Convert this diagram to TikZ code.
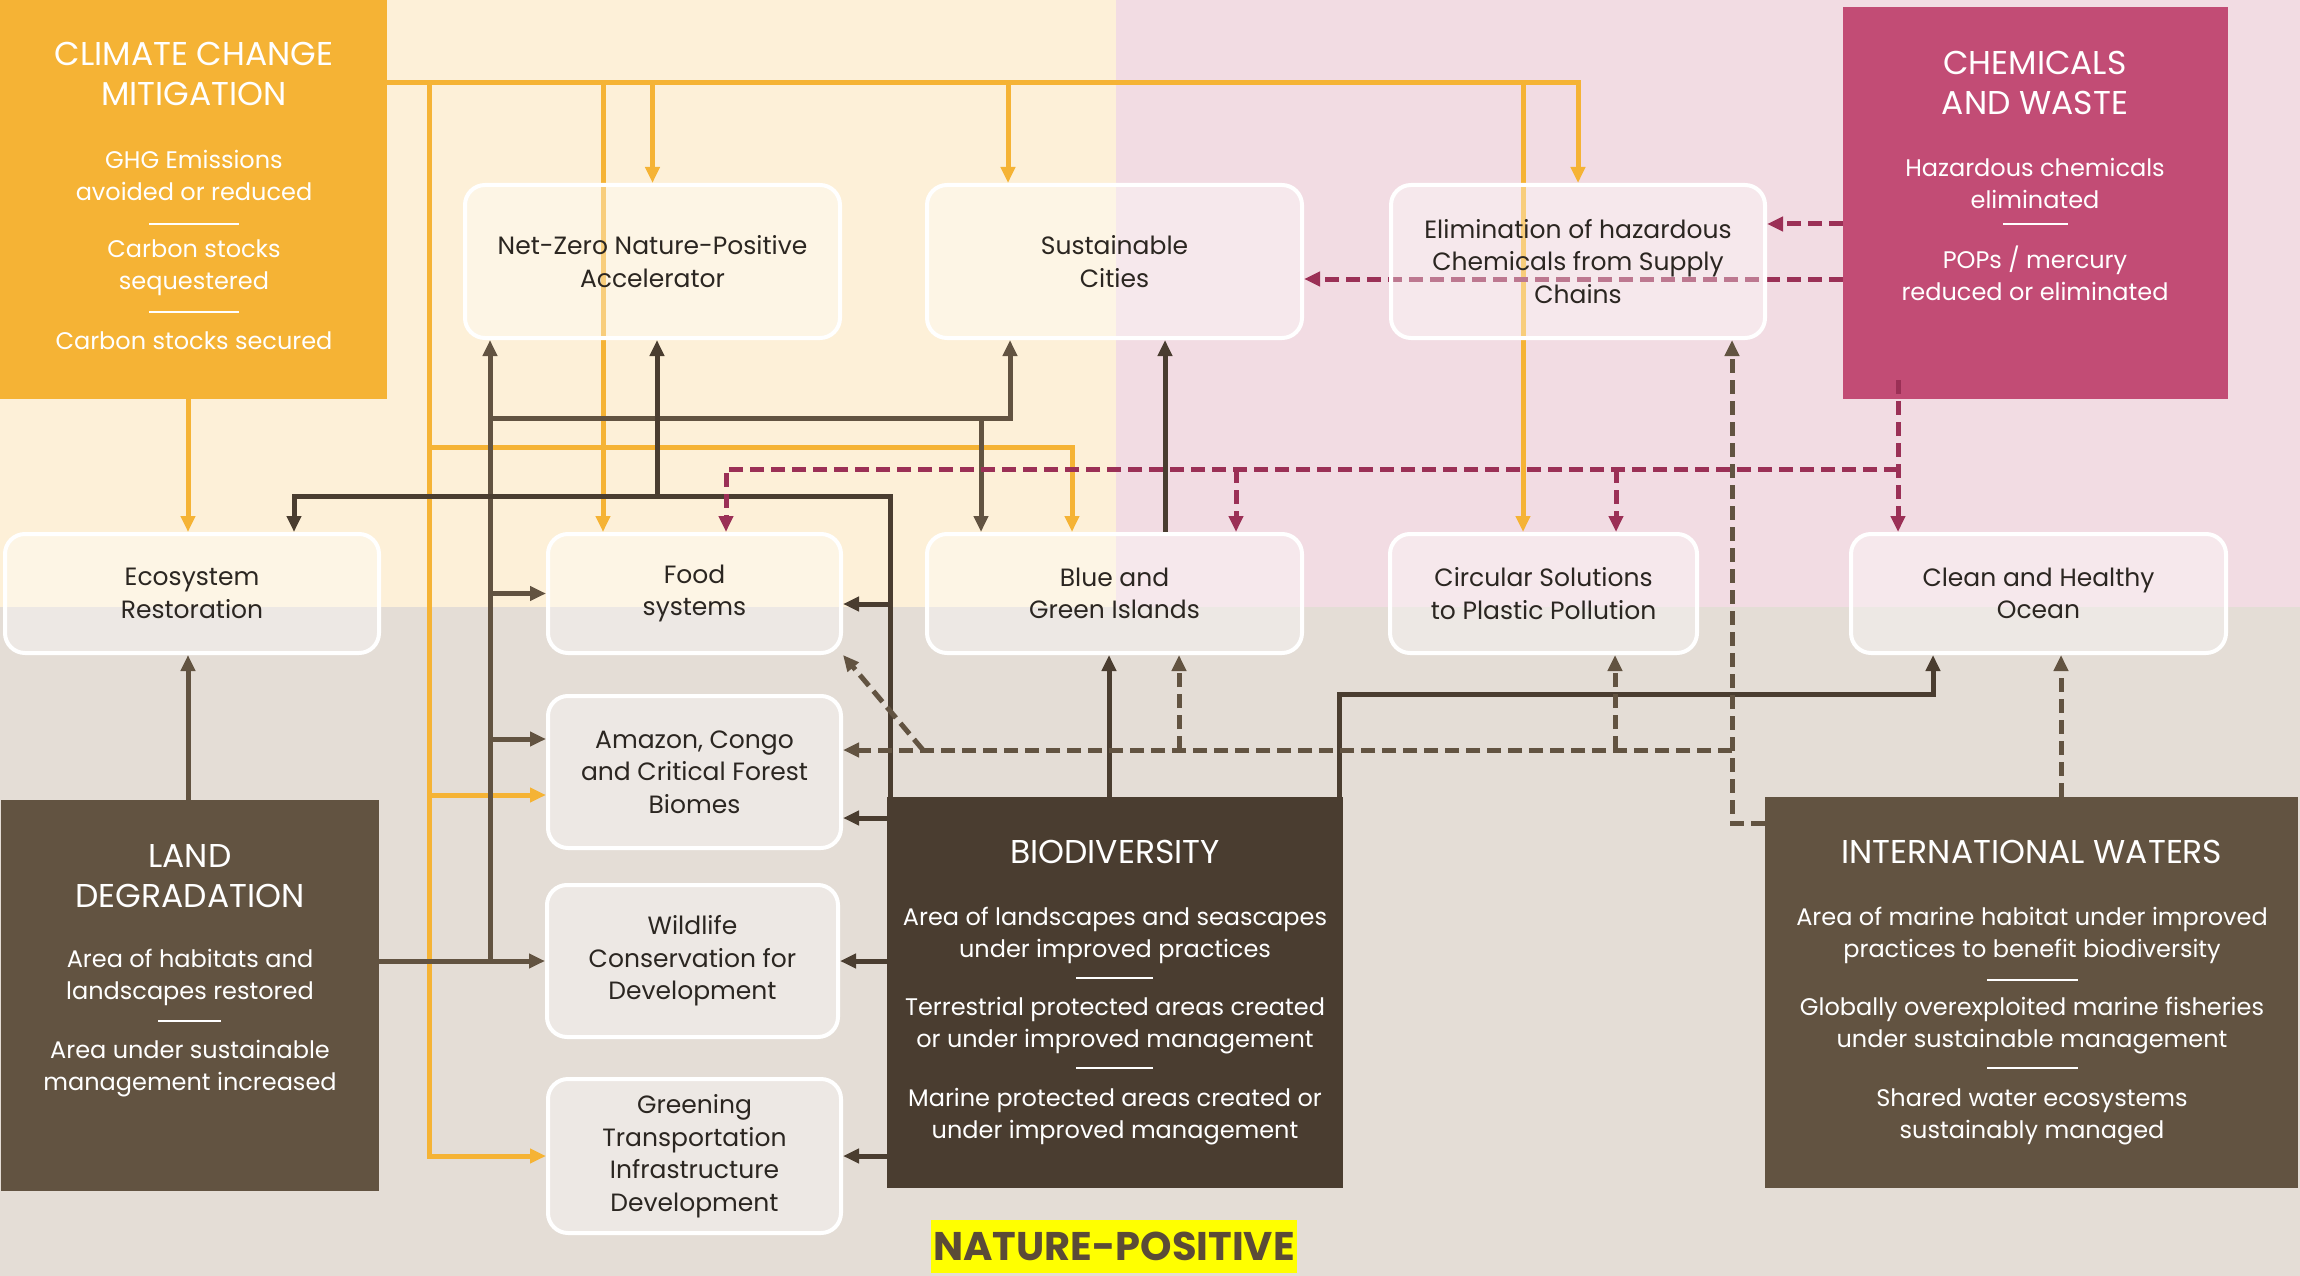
\documentclass[tikz,border=0pt]{standalone}
\usepackage{fontspec}
\setmainfont{Poppins}
\usetikzlibrary{arrows.meta}
\definecolor{creamC}{HTML}{FDF0D8}
\definecolor{pinkC}{HTML}{F2DCE3}
\definecolor{groundC}{HTML}{E4DDD6}
\definecolor{climC}{HTML}{F5B335}
\definecolor{chemC}{HTML}{C24C75}
\definecolor{landC}{HTML}{625341}
\definecolor{bioC}{HTML}{4A3D30}
\definecolor{chemL}{HTML}{9B3056}
\definecolor{boxtext}{HTML}{2B2621}
\definecolor{npY}{HTML}{FFFF00}
\definecolor{npT}{HTML}{5B4B37}
\newcommand\boxfnt{\fontsize{25}{32.5}\selectfont}
\newcommand\itemfnt{\fontsize{24}{32}\selectfont}
\newcommand\titlefnt{\fontsize{33}{40}\selectfont}
\newcommand\npfnt{\fontsize{40}{42}\selectfont\bfseries}
\pgfdeclarelayer{bglayer}
\pgfdeclarelayer{lines}
\pgfdeclarelayer{front}
\pgfsetlayers{bglayer,lines,main,front}
\begin{document}
\begin{tikzpicture}[x=1pt,y=-1pt,
  >={Triangle[length=16pt,width=14pt]},
  box/.style={draw=white,line width=4pt,rounded corners=20pt,fill=white,fill opacity=0.35,text opacity=1,text=boxtext,align=center,font=\boxfnt,inner sep=0pt},
  darkbox/.style={draw=none,inner sep=0pt},
  wtxt/.style={text=white,align=center,inner sep=0pt},
  sepline/.style={draw=white,line width=2pt},
  ora/.style={draw=climC,line width=5pt},
  lnd/.style={draw=landC,line width=5pt},
  bioline/.style={draw=bioC,line width=5pt},
  iwd/.style={draw=landC,line width=5pt,dash pattern=on 14pt off 7pt},
  chd/.style={draw=chemL,line width=5pt,dash pattern=on 14pt off 7pt}
]
\useasboundingbox (0,0) rectangle (2300,1276);
\begin{pgfonlayer}{bglayer}
\fill[creamC] (0,0) rectangle (1116,607);
\fill[pinkC] (1116,0) rectangle (2300,607);
\fill[groundC] (0,607) rectangle (2300,1276);
\end{pgfonlayer}

% principal boxes
\node[darkbox,fill=climC,minimum width=387pt,minimum height=399pt] (clim) at (193.5,199.5) {};
\node[darkbox,fill=chemC,minimum width=385pt,minimum height=392pt] (chem) at (2035.5,203) {};
\node[darkbox,fill=landC,minimum width=378pt,minimum height=391pt] (land) at (190,995.5) {};
\node[darkbox,fill=bioC,minimum width=456pt,minimum height=391pt] (bio) at (1115,992.5) {};
\node[darkbox,fill=landC,minimum width=533pt,minimum height=391pt] (iw) at (2031.5,992.5) {};

% rounded boxes
\node[box,minimum width=375pt,minimum height=153pt] (nz) at (652.5,261.5) {Net-Zero Nature-Positive\\Accelerator};
\node[box,minimum width=375pt,minimum height=153pt] (sc) at (1114.5,261.5) {Sustainable\\Cities};
\node[box,minimum width=374pt,minimum height=153pt] (el) at (1578,261.5) {Elimination of hazardous\\Chemicals from Supply\\Chains};
\node[box,minimum width=374pt,minimum height=119pt] (er) at (192,593.5) {Ecosystem\\Restoration};
\node[box,minimum width=293pt,minimum height=119pt] (fs) at (694.5,593.5) {Food\\systems};
\node[box,minimum width=375pt,minimum height=119pt] (bg) at (1114.5,593.5) {Blue and\\Green Islands};
\node[box,minimum width=307pt,minimum height=119pt] (cs) at (1543.5,593.5) {Circular Solutions\\to Plastic Pollution};
\node[box,minimum width=375pt,minimum height=119pt] (ocean) at (2038.5,593.5) {Clean and Healthy\\Ocean};
\node[box,minimum width=293pt,minimum height=152pt] (am) at (694.5,772) {Amazon, Congo\\and Critical Forest\\Biomes};
\node[box,minimum width=291pt,minimum height=152pt] (wl) at (692.5,961) {Wildlife\\Conservation for\\Development};
\node[box,minimum width=293pt,minimum height=154pt] (gr) at (694.5,1156) {Greening\\Transportation\\Infrastructure\\Development};
\node[fill=npY,minimum width=366pt,minimum height=53pt,inner sep=0pt,font=\npfnt,text=npT] (np) at (1114,1246.5) {NATURE-POSITIVE};

% texts in coloured boxes
\node[wtxt,font=\titlefnt] (climT) at (194,74) {CLIMATE CHANGE\\MITIGATION};
\node[wtxt,font=\itemfnt] (climA) at (194,175.5) {GHG Emissions\\avoided or reduced};
\draw[sepline] (149,224) -- (239,224);
\node[wtxt,font=\itemfnt] (climB) at (194,267.5) {Carbon stocks\\sequestered};
\draw[sepline] (149,312) -- (239,312);
\node[wtxt,font=\itemfnt] (climC) at (194,341) {Carbon stocks secured};

\node[wtxt,font=\titlefnt] (chemT) at (2035,83) {CHEMICALS\\AND WASTE};
\node[wtxt,font=\itemfnt] (chemA) at (2035,183) {Hazardous chemicals\\eliminated};
\draw[sepline] (2003,224) -- (2068,224);
\node[wtxt,font=\itemfnt] (chemB) at (2035,273) {POPs / mercury\\reduced or eliminated};

\node[wtxt,font=\titlefnt] (landT) at (190,876.5) {LAND\\DEGRADATION};
\node[wtxt,font=\itemfnt] (landA) at (190,977) {Area of habitats and\\landscapes restored};
\draw[sepline] (158,1021) -- (221,1021);
\node[wtxt,font=\itemfnt] (landB) at (190,1069) {Area under sustainable\\management increased};

\node[wtxt,font=\titlefnt] (bioT) at (1115,852) {BIODIVERSITY};
\node[wtxt,font=\itemfnt] (bioA) at (1115,935) {Area of landscapes and seascapes\\under improved practices};
\draw[sepline] (1076,978) -- (1153,978);
\node[wtxt,font=\itemfnt] (bioB) at (1115,1026) {Terrestrial protected areas created\\or under improved management};
\draw[sepline] (1076,1068) -- (1153,1068);
\node[wtxt,font=\itemfnt] (bioC) at (1115,1117) {Marine protected areas created or\\under improved management};

\node[wtxt,font=\titlefnt] (iwT) at (2032,852) {INTERNATIONAL WATERS};
\node[wtxt,font=\itemfnt] (iwA) at (2032,935) {Area of marine habitat under improved\\practices to benefit biodiversity};
\draw[sepline] (1987,980) -- (2078,980);
\node[wtxt,font=\itemfnt] (iwB) at (2032,1026) {Globally overexploited marine fisheries\\under sustainable management};
\draw[sepline] (1987,1068) -- (2078,1068);
\node[wtxt,font=\itemfnt] (iwC) at (2032,1117) {Shared water ecosystems\\sustainably managed};

\begin{pgfonlayer}{lines}
\coordinate (Xa) at (429,0);
\coordinate (Xb) at (603,0);
\coordinate (Xd) at (1008,0);
\coordinate (Xe) at (1523,0);
\coordinate (Xg) at (1072,0);
\coordinate (Xh) at (188,0);
\coordinate (Xl) at (490,0);
\coordinate (Xs) at (1010,0);
\coordinate (Xk) at (981,0);
\coordinate (Xbv) at (890,0);
\coordinate (Xer) at (294,0);
\coordinate (Xnz) at (657,0);
\coordinate (Xbga) at (1109,0);
\coordinate (Xbr) at (1339,0);
\coordinate (Xoc) at (1933,0);
\coordinate (Xbs) at (1165,0);
\coordinate (Xiw) at (2061,0);
\coordinate (Xel) at (1732,0);
\coordinate (Xdg) at (923,0);
\coordinate (Xbgd) at (1179,0);
\coordinate (Xcsd) at (1615,0);
\coordinate (Xch) at (1898,0);
\coordinate (Xfsm) at (726,0);
\coordinate (Xbgm) at (1236,0);
\coordinate (Xcsm) at (1616,0);
\coordinate (Ytop) at (0,83);
\coordinate (Yoa) at (0,447);
\coordinate (Yam) at (0,795);
\coordinate (Ylam) at (0,739);
\coordinate (Ylb) at (0,418);
\coordinate (Ybb) at (0,496);
\coordinate (Yfs) at (0,604);
\coordinate (Yamb) at (0,818);
\coordinate (Ybc) at (0,694);
\coordinate (Yiw) at (0,823);
\coordinate (Ydd) at (0,750);
\coordinate (Yca) at (0,224);
\coordinate (Ycb) at (0,279);
\coordinate (Ycc) at (0,380);
\coordinate (Ycd) at (0,469);
% climate change mitigation
\draw[ora,->] (clim.east |- Ytop) -| (el.north);
\draw[ora,->] (nz.north |- Ytop) -- (nz.north);
\draw[ora,->] (Xb |- Ytop) -- (Xb |- fs.north);
\draw[ora,->] (Xd |- Ytop) -- (Xd |- sc.north);
\draw[ora,->] (Xe |- Ytop) -- (Xe |- cs.north);
\draw[ora,->] (Xa |- Ytop) |- (gr.west);
\draw[ora,->] (Xa |- Yoa) -| (Xg |- bg.north);
\draw[ora,->] (Xa |- Yam) -- (am.west |- Yam);
\draw[ora,->] (Xh |- clim.south) -- (Xh |- er.north);
% land degradation
\draw[lnd,->] (Xh |- land.north) -- (Xh |- er.south);
\draw[lnd,->] (land.east |- wl.west) -- (wl.west);
\draw[lnd,->] (Xl |- wl.west) -- (Xl |- nz.south);
\draw[lnd,->] (Xl |- fs.west) -- (fs.west);
\draw[lnd,->] (Xl |- Ylam) -- (am.west |- Ylam);
\draw[lnd,->] (Xl |- Ylb) -| (Xs |- sc.south);
\draw[lnd,->] (Xk |- Ylb) -- (Xk |- bg.north);
% biodiversity
\draw[bioline,->] (Xbv |- bio.north) |- (Xer |- Ybb) -- (Xer |- er.north);
\draw[bioline,->] (Xnz |- Ybb) -- (Xnz |- nz.south);
\draw[bioline,->] (Xbv |- Yfs) -- (fs.east |- Yfs);
\draw[bioline,->] (bio.west |- Yamb) -- (am.east |- Yamb);
\draw[bioline,->] (bio.west |- wl.east) -- (wl.east);
\draw[bioline,->] (bio.west |- gr.east) -- (gr.east);
\draw[bioline,->] (Xbga |- bio.north) -- (Xbga |- bg.south);
\draw[bioline,->] (Xbr |- bio.north) |- (Xoc |- Ybc) -- (Xoc |- ocean.south);
\draw[bioline,->] (Xbs |- bg.north) -- (Xbs |- sc.south);
% international waters
\draw[iwd,->] (Xiw |- iw.north) -- (Xiw |- ocean.south);
\draw[iwd,->] (iw.west |- Yiw) -| (Xel |- el.south);
\draw[iwd,->] (Xel |- Ydd) -- (am.east |- Ydd);
\draw[iwd,->] (Xdg |- Ydd) -- (fs.south east);
\draw[iwd,->] (Xbgd |- Ydd) -- (Xbgd |- bg.south);
\draw[iwd,->] (Xcsd |- Ydd) -- (Xcsd |- cs.south);
% chemicals and waste
\draw[chd,->] (chem.west |- Yca) -- (el.east |- Yca);
\draw[chd,->] (chem.west |- Ycb) -- (sc.east |- Ycb);
\draw[chd,->] (Xch |- Ycd) -| (Xfsm |- fs.north);
\draw[chd,->] (Xbgm |- Ycd) -- (Xbgm |- bg.north);
\draw[chd,->] (Xcsm |- Ycd) -- (Xcsm |- cs.north);
\end{pgfonlayer}
\begin{pgfonlayer}{front}
\draw[chd,->] (Xch |- Ycc) -- (Xch |- ocean.north);
\end{pgfonlayer}
\end{tikzpicture}
\end{document}
